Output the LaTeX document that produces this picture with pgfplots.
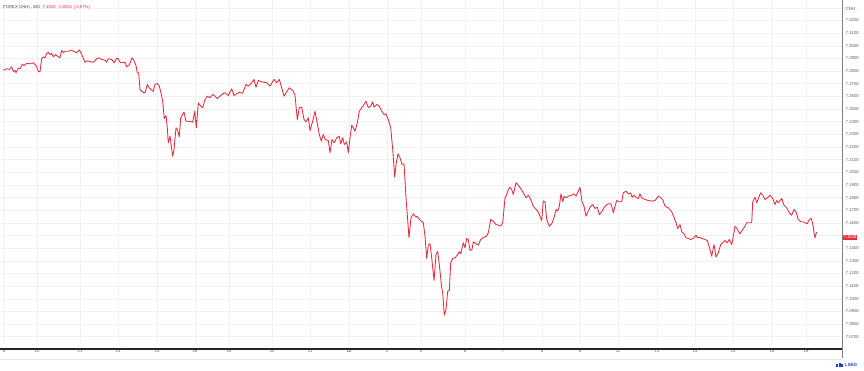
\documentclass[border=0pt]{standalone}
\usepackage{pgfplots}
\pgfplotsset{compat=1.18}
\usepackage{pgfplotstable}
\usepackage{fontspec}
\setmainfont{Liberation Sans}
\definecolor{linered}{HTML}{E62B3C}
\definecolor{gridc}{HTML}{F1F1F1}
\definecolor{lbl}{HTML}{5A5A5A}
\definecolor{lsegblue}{HTML}{1E3FD0}
\pgfplotstableread{
x y
3.3 7.2807
6.7 7.2818
9.3 7.2813
11.7 7.2834
13.3 7.2797
15 7.2805
16 7.2787
18.3 7.2823
20 7.2818
22.3 7.2855
24 7.2844
26.7 7.2860
30 7.2858
33.3 7.2866
35 7.2852
36.7 7.2834
38.3 7.2797
40 7.2794
41.7 7.2897
43.3 7.2913
45 7.2905
46.7 7.2939
48.3 7.2949
50 7.2931
51.7 7.2939
53.3 7.2913
55.7 7.2931
57.3 7.2918
60 7.2905
61.7 7.2965
63.3 7.2945
65 7.2957
68.3 7.2957
71.7 7.2965
74 7.2955
76.7 7.2945
79.3 7.2968
80.7 7.2949
82.7 7.2913
85 7.2870
87.3 7.2881
90 7.2876
93.3 7.2870
96.7 7.2897
99.3 7.2905
101.7 7.2892
105 7.2886
106.7 7.2870
108.3 7.2897
111.7 7.2892
114 7.2866
116.7 7.2902
118.3 7.2897
120 7.2870
122.7 7.2866
125 7.2870
126.7 7.2834
129.3 7.2850
132 7.2905
133.3 7.2892
136 7.2844
137.3 7.2787
138.7 7.2787
140 7.2655
142.7 7.2633
145 7.2628
147.3 7.2694
149.3 7.2668
151.7 7.2649
153.3 7.2641
155 7.2694
157.3 7.2702
159.3 7.2681
161 7.2628
162.7 7.2562
164.3 7.2423
166 7.2449
167.3 7.2352
168.3 7.2233
170 7.2285
172.7 7.2127
174 7.2180
176 7.2352
177.3 7.2338
179.3 7.2281
180.7 7.2431
184 7.2475
186 7.2404
190 7.2402
192.7 7.2396
194.7 7.2483
196.3 7.2352
198.3 7.2549
200.7 7.2523
202.7 7.2510
205 7.2576
207.3 7.2602
210 7.2589
212.7 7.2615
215 7.2602
217.3 7.2583
220 7.2602
222.7 7.2621
225 7.2628
228.3 7.2607
231.7 7.2660
234 7.2607
236.7 7.2621
239.3 7.2633
242.7 7.2625
246 7.2694
248.3 7.2681
251.7 7.2708
254 7.2734
256 7.2673
258.3 7.2726
261.7 7.2715
266.7 7.2708
270 7.2681
274 7.2734
276.7 7.2708
279.3 7.2734
281.7 7.2668
284 7.2602
286.7 7.2636
289.3 7.2668
292.7 7.2647
295 7.2610
297.3 7.2417
299.3 7.2510
301.7 7.2515
304 7.2417
306 7.2399
308.3 7.2431
310 7.2330
312.7 7.2404
315 7.2483
317.3 7.2383
319.3 7.2299
321.3 7.2246
323.3 7.2299
325.3 7.2259
328.3 7.2251
330 7.2154
332 7.2259
334.3 7.2233
336.7 7.2273
339.3 7.2285
340.7 7.2225
342.7 7.2273
344.3 7.2220
346.7 7.2241
348.3 7.2154
350 7.2273
351.7 7.2372
353.3 7.2352
355 7.2325
357.3 7.2391
359.3 7.2483
361.7 7.2510
364 7.2536
366 7.2562
368.3 7.2510
370.7 7.2523
372.7 7.2557
374 7.2515
376.7 7.2536
379.3 7.2523
381.7 7.2483
384 7.2457
386 7.2462
388.3 7.2417
390.7 7.2352
392.7 7.2180
394.7 7.1961
396 7.2062
398 7.2146
400 7.2115
402 7.2062
404 7.2067
406 7.1798
409 7.1482
411 7.1640
413.3 7.1672
416 7.1645
417.3 7.1653
419.3 7.1627
421.7 7.1613
423.3 7.1601
425 7.1495
426.7 7.1319
428.3 7.1424
430 7.1435
431.7 7.1324
434 7.1145
436 7.1350
437.7 7.1376
439.3 7.1271
441.7 7.1087
442.7 7.1047
444.3 7.0870
446 7.0915
447.7 7.1060
449.3 7.1066
450.7 7.1285
452.7 7.1319
455 7.1324
457.3 7.1345
459.3 7.1372
460.7 7.1356
463.3 7.1443
465 7.1403
466.7 7.1477
468.3 7.1469
470 7.1382
472 7.1390
473.3 7.1451
476 7.1435
478.3 7.1424
480.7 7.1469
484 7.1487
486.7 7.1495
488.3 7.1522
490.7 7.1627
493.3 7.1613
496 7.1587
498.3 7.1582
500.7 7.1574
502.7 7.1601
505 7.1798
506.7 7.1825
508.3 7.1864
510 7.1882
511.7 7.1864
513.3 7.1825
516 7.1917
518.3 7.1898
520.7 7.1872
523.3 7.1838
526 7.1798
528.3 7.1819
530.7 7.1785
533.3 7.1732
535 7.1714
537.3 7.1698
539.3 7.1666
541.7 7.1619
543.3 7.1772
545 7.1767
546.7 7.1627
549.3 7.1574
551.7 7.1593
554 7.1640
556 7.1706
557.7 7.1693
559.3 7.1732
561 7.1830
562.7 7.1767
564 7.1811
566 7.1798
568.3 7.1811
571.7 7.1819
574 7.1830
576 7.1811
578.3 7.1851
580 7.1882
582 7.1767
584 7.1732
586 7.1653
588.3 7.1693
590.7 7.1732
592.7 7.1745
595 7.1714
597.3 7.1724
599.3 7.1666
601.7 7.1688
605 7.1732
608.3 7.1751
610.7 7.1751
611.7 7.1732
613.3 7.1680
615 7.1732
616.7 7.1777
619.3 7.1767
621.7 7.1767
623.3 7.1838
626 7.1851
628.3 7.1830
630.7 7.1838
632 7.1803
634 7.1819
636 7.1803
638.3 7.1793
640 7.1830
641.7 7.1798
645 7.1785
648.3 7.1777
651.7 7.1772
655 7.1777
658.3 7.1811
661.7 7.1793
663.3 7.1772
665 7.1732
668.3 7.1719
671.7 7.1688
674 7.1645
676 7.1601
677.7 7.1556
680 7.1587
681.7 7.1530
684 7.1514
686 7.1482
688.3 7.1477
690.7 7.1469
693.3 7.1477
696 7.1503
697.3 7.1482
699.3 7.1487
701.7 7.1477
705 7.1469
707.3 7.1461
709.3 7.1408
711.7 7.1337
714 7.1429
716 7.1329
718.3 7.1364
720.7 7.1429
722.7 7.1443
725 7.1461
727.3 7.1443
729.3 7.1469
731.7 7.1429
733.3 7.1495
735 7.1574
736.7 7.1561
738.3 7.1534
740 7.1514
742.7 7.1548
745 7.1574
746.7 7.1601
749.3 7.1601
751.7 7.1601
752.7 7.1767
755 7.1803
756.7 7.1759
758.3 7.1793
760.7 7.1838
762.7 7.1819
765 7.1785
767.3 7.1798
770 7.1819
772.7 7.1793
775 7.1745
776.7 7.1777
778.3 7.1759
781.7 7.1793
784 7.1740
786.7 7.1719
789.3 7.1680
791.7 7.1661
794 7.1706
796 7.1688
798.3 7.1627
800.7 7.1609
803.3 7.1609
805 7.1601
807.3 7.1593
809.3 7.1627
811.3 7.1635
812.7 7.1593
814 7.1522
815 7.1482
816 7.1514
816.7 7.1528
}\pricedata
\begin{document}
\begin{tikzpicture}[x=1bp,y=1bp]
\useasboundingbox (0,0) rectangle (864,370);
\begin{axis}[
  at={(0,21)}, anchor=south west,
  scale only axis, width=842bp, height=349bp,
  xmin=0, xmax=842, ymin=7.0647, ymax=7.3406,
  axis line style={draw=none},
  major tick length=0pt,
  /pgf/number format/assume math mode=true,
  xtick={4,37,80,118,157,195,229,272,310,349,387,421,465,503,542,580,618,657,695,733,772,806},
  xticklabels={9,20,21,24,25,26,28,30,31,\textbf{12},2,4,6,7,8,9,11,13,14,15,16,18},
  ytick={7.07,7.08,7.09,7.10,7.11,7.12,7.13,7.14,7.16,7.17,7.18,7.19,7.20,7.21,7.22,7.23,7.24,7.25,7.26,7.27,7.28,7.29,7.30,7.31,7.32},
  extra y ticks={7.15,7.33}, extra y tick labels={},
  extra y tick style={grid=major},
  yticklabel pos=right,
  grid=major,
  grid style={gridc, line width=0.5bp},
  ticklabel style={font=\fontsize{4.3}{5}\selectfont, text=lbl, inner sep=0pt},
  y tick label style={anchor=west, xshift=3.5bp,
    /pgf/number format/fixed, /pgf/number format/fixed zerofill,
    /pgf/number format/precision=4},
  x tick label style={anchor=north, yshift=-6bp},
]
\addplot[linered, line width=0.85bp, line join=round] table[x=x, y=y] {\pricedata};
\end{axis}
% axis decorations
\draw[line width=1.1bp, black!85] (0,21) -- (842,21);
\draw[line width=0.5bp, black!10] (0,11) -- (842,11);
\draw[line width=0.7bp, black!50] (842.5,370) -- (842.5,12);
% current value tag
\node[fill=linered, text=white, inner sep=0.5bp, minimum height=5.6bp, anchor=west,
      font=\fontsize{4.3}{5}\selectfont] at (842.8,132.5) {7.1528};
% currency tag
\node[draw=black!15, rounded corners=1bp, inner sep=1bp, text=lbl,
      font=\fontsize{4.3}{5}\selectfont] at (850.5,360.5) {CNH};
% title
\node[anchor=west, inner sep=0pt, text=black!70, font=\fontsize{4.3}{5}\selectfont] at (3,362.7)
  {FOREX CNH=, BID\enspace\textcolor{linered}{7.1528\enspace -0.0051 (-0.07\%)}};
% LSEG logo
\fill[lsegblue] (836,3.5) rectangle (838,6.5);
\fill[lsegblue] (838.6,3.5) rectangle (840.6,7.5);
\fill[lsegblue] (841.2,3.5) rectangle (843.2,6.5);
\node[anchor=west, inner sep=0pt, text=lsegblue, font=\bfseries\fontsize{4.6}{5}\selectfont] at (844.5,5) {LSEG};
\end{tikzpicture}
\end{document}
